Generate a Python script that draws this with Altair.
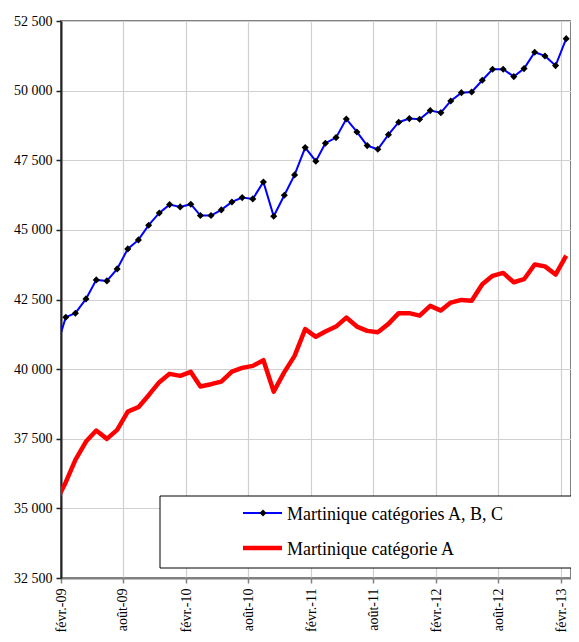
import altair as alt
import pandas as pd

# Monthly data (mid-month), Jan 2009 .. Feb 2013 (Jan 2009 partially outside the axis)
months = []
for y in range(2009, 2014):
    for m in range(1, 13):
        if (y == 2013 and m > 2):
            break
        months.append(f"{y}-{m:02d}-15")

blue_vals = [40620, 41865, 42009, 42522, 43204, 43168, 43599, 44317, 44640, 45168,
             45609, 45907, 45825, 45922, 45513, 45513, 45717, 46004, 46159, 46112,
             46722, 45491, 46245, 46974, 47954, 47465, 48112, 48313, 48984, 48517,
             48026, 47896, 48420, 48866, 48995, 48973, 49282, 49210, 49630, 49928,
             49953, 50373, 50768, 50768, 50503, 50790, 51379, 51246, 50898, 51867]

red_vals = [35180, 35942, 36742, 37399, 37794, 37496, 37819, 38476, 38634, 39065,
            39532, 39830, 39758, 39900, 39374, 39459, 39553, 39912, 40045, 40117,
            40321, 39194, 39891, 40476, 41434, 41160, 41348, 41528, 41851, 41528,
            41373, 41326, 41624, 42009, 42009, 41923, 42271, 42102, 42389, 42486,
            42455, 43050, 43350, 43455, 43120, 43229, 43755, 43690, 43395, 44076]

series_names = ["Martinique catégories A, B, C", "Martinique catégorie A"]
y_ticks = [32500, 35000, 37500, 40000, 42500, 45000, 47500, 50000, 52500]
x_tick_dates = [(2009, 2), (2009, 8), (2010, 2), (2010, 8), (2011, 2), (2011, 8),
                (2012, 2), (2012, 8), (2013, 2)]

df_blue = pd.DataFrame({"date": months, "value": blue_vals})
df_red = pd.DataFrame({"date": months, "value": red_vals})

FONT = "Liberation Serif"

x_enc = alt.X(
    "date:T",
    scale=alt.Scale(
        type="utc",
        domain=[alt.DateTime(year=2009, month=2, date=1, utc=True),
                alt.DateTime(year=2013, month=3, date=1, utc=True)],
    ),
    axis=alt.Axis(
        values=[alt.DateTime(year=y, month=m, date=1, utc=True) for y, m in x_tick_dates],
        labelExpr="(utcFormat(datum.value, '%m') == '02' ? 'févr.-' : 'août-') + utcFormat(datum.value, '%y')",
        labelAngle=270,
        title=None,
        labelFont=FONT,
        labelFontSize=14,
        labelColor="black",
        labelPadding=5,
        domainColor="#808080",
        domainWidth=2,
        tickColor="#808080",
        tickWidth=1.5,
        tickSize=5,
        gridColor="#d0d0d0",
        gridWidth=1.2,
    ),
)

y_enc = alt.Y(
    "value:Q",
    scale=alt.Scale(domain=[32500, 52500], nice=False, zero=False),
    axis=alt.Axis(
        values=y_ticks,
        labelExpr="replace(format(datum.value, ','), ',', ' ')",
        title=None,
        labelFont=FONT,
        labelFontSize=14,
        labelColor="black",
        labelPadding=4,
        domainColor="#222222",
        domainWidth=2,
        tickColor="#222222",
        tickWidth=1.5,
        tickSize=5,
        gridColor="#d0d0d0",
        gridWidth=1.2,
    ),
)

blue_line = alt.Chart(df_blue).mark_line(color="#0000FF", strokeWidth=2, clip=True).encode(x=x_enc, y=y_enc)
blue_pts = alt.Chart(df_blue).mark_point(shape="diamond", filled=True, color="black", size=50,
                                         opacity=1, clip=True).encode(x="date:T", y="value:Q")
red_line = alt.Chart(df_red).mark_line(color="#FF0000", strokeWidth=4.5, clip=True,
                                       strokeJoin="round").encode(x="date:T", y="value:Q")

one = pd.DataFrame({"k": [0]})
legend_box = alt.Chart(one).mark_rect(fill="white", stroke="black", strokeWidth=1).encode(
    x=alt.value(99), x2=alt.value(540), y=alt.value(475), y2=alt.value(547))
leg_blue_line = alt.Chart(one).mark_rule(color="#0000FF", strokeWidth=2).encode(
    x=alt.value(182), x2=alt.value(221), y=alt.value(492))
leg_blue_pt = alt.Chart(one).mark_point(shape="diamond", filled=True, color="black", size=50, opacity=1).encode(
    x=alt.value(202), y=alt.value(492))
leg_red_line = alt.Chart(one).mark_rule(color="#FF0000", strokeWidth=4.5).encode(
    x=alt.value(182), x2=alt.value(221), y=alt.value(527))
leg_blue_text = alt.Chart(one).mark_text(align="left", baseline="middle", font=FONT, fontSize=18,
                                         color="black").encode(
    x=alt.value(226), y=alt.value(494), text=alt.value(series_names[0]))
leg_red_text = alt.Chart(one).mark_text(align="left", baseline="middle", font=FONT, fontSize=18,
                                        color="black").encode(
    x=alt.value(226), y=alt.value(529), text=alt.value(series_names[1]))

chart = alt.layer(
    red_line, blue_line, blue_pts,
    legend_box, leg_blue_line, leg_blue_pt, leg_red_line, leg_blue_text, leg_red_text,
).properties(
    width=510,
    height=557,
    padding={"left": 53, "top": 13, "right": 0, "bottom": 54},
    autosize=alt.AutoSizeParams(type="none"),
).configure_view(
    stroke="#808080",
    strokeWidth=2,
)

chart.save("out.html", embed_options={"renderer": "svg", "actions": False})
